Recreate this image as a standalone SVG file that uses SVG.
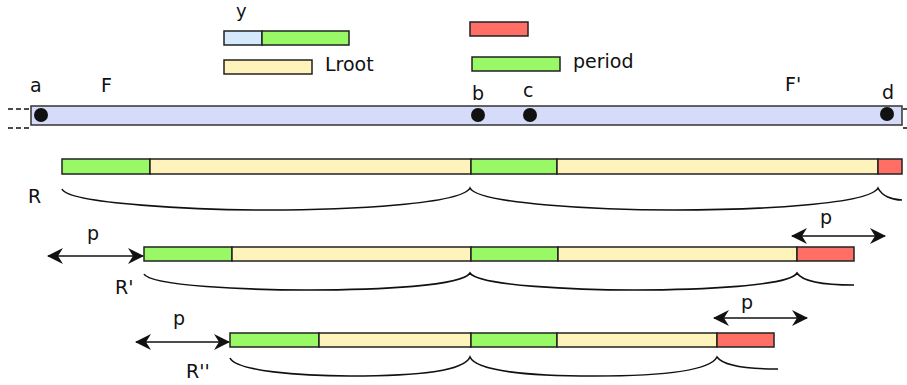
<svg xmlns="http://www.w3.org/2000/svg" width="907" height="385" viewBox="0 0 907 385">
<defs>
<style>
text{font-family:"DejaVu Sans",sans-serif;font-size:19px;fill:#111}
.b{stroke:#222;stroke-width:1.5}
.g{fill:#98f866}.yl{fill:#fff3bc}.r{fill:#ff6f66}.lb{fill:#d4e9fb}.f{fill:#d5dbf9;stroke:#333;stroke-width:1.5}
.br{fill:none;stroke:#111;stroke-width:1.6}
.ar{fill:none;stroke:#111;stroke-width:1.6;marker-start:url(#ah);marker-end:url(#ah)}
.ds{stroke:#111;stroke-width:1.5;stroke-dasharray:5,3}
</style>
<marker id="ah" viewBox="-16 -9 18 18" markerWidth="18" markerHeight="18" refX="0" refY="0" orient="auto-start-reverse" markerUnits="userSpaceOnUse">
<path d="M1,0 L-15,-8 L-10,0 L-15,8 Z" fill="#111"/>
</marker>
</defs>

<g id="legend">
<rect class="b lb" x="224" y="31" width="38" height="14"/>
<rect class="b g" x="262" y="31" width="87" height="14"/>
<text x="236" y="17" style="font-size:18px">y</text>
<rect class="b yl" x="224" y="60" width="88" height="14"/>
<text x="325" y="71">Lroot</text>
<rect class="b r" x="470" y="22" width="58" height="14"/>
<rect class="b g" x="472" y="57" width="88" height="14"/>
<text x="573" y="68">period</text>
</g>

<g id="F">
<line class="ds" x1="8" y1="109" x2="30" y2="109"/>
<line class="ds" x1="8" y1="128" x2="30" y2="128"/>
<line class="ds" x1="903" y1="109" x2="907" y2="109"/>
<line class="ds" x1="903" y1="128" x2="907" y2="128"/>
<rect class="f" x="31" y="106" width="871" height="19"/>
<circle cx="41" cy="115" r="7" fill="#111"/>
<circle cx="478" cy="115" r="7" fill="#111"/>
<circle cx="530" cy="115" r="7" fill="#111"/>
<circle cx="887" cy="114" r="7" fill="#111"/>
<text x="30" y="92">a</text>
<text x="101" y="92">F</text>
<text x="472" y="100">b</text>
<text x="523" y="97">c</text>
<text x="785" y="91">F'</text>
<text x="882" y="99">d</text>
</g>

<g id="R">
<rect class="b g" x="62" y="159" width="88" height="15"/>
<rect class="b yl" x="150" y="159" width="321" height="15"/>
<rect class="b g" x="471" y="159" width="86" height="15"/>
<rect class="b yl" x="557" y="159" width="321" height="15"/>
<rect class="b r" x="878" y="159" width="24" height="15"/>
<text x="28" y="203">R</text>
</g>

<g id="R1">
<rect class="b g" x="144" y="247" width="88" height="14"/>
<rect class="b yl" x="232" y="247" width="239" height="14"/>
<rect class="b g" x="471" y="247" width="87" height="14"/>
<rect class="b yl" x="558" y="247" width="239" height="14"/>
<rect class="b r" x="797" y="247" width="57" height="14"/>
<text x="115" y="294">R'</text>
<text x="87" y="240">p</text>
<text x="820" y="224">p</text>
</g>

<g id="R2">
<rect class="b g" x="230" y="333" width="89" height="14"/>
<rect class="b yl" x="319" y="333" width="152" height="14"/>
<rect class="b g" x="471" y="333" width="86" height="14"/>
<rect class="b yl" x="557" y="333" width="160" height="14"/>
<rect class="b r" x="717" y="333" width="57" height="14"/>
<text x="186" y="378">R''</text>
<text x="173" y="325">p</text>
<text x="741" y="309">p</text>
</g>

<g id="connectors">
<path class="br" d="M62,189 C68,204 200,210 266,210 C350,210 462,204 470,188 C478,204 600,210 674,210 C760,210 870,204 878,188 C882,196 892,200 902,200"/>
<path class="br" d="M144,274 C150,286 250,290 307,290 C380,290 462,286 470,273 C478,286 580,290 634,290 C700,290 790,286 797,273 C802,281 820,285 854,285"/>
<path class="br" d="M230,358 C236,371 300,376 350,376 C420,376 464,371 470,357 C476,371 530,376 594,376 C660,376 710,371 717,357 C722,364 740,369 778,369"/>
<line class="ar" x1="48" y1="256" x2="143" y2="256"/>
<line class="ar" x1="792" y1="236" x2="885" y2="236"/>
<line class="ar" x1="136" y1="342" x2="229" y2="342"/>
<line class="ar" x1="714" y1="318" x2="807" y2="318"/>
</g>
</svg>
